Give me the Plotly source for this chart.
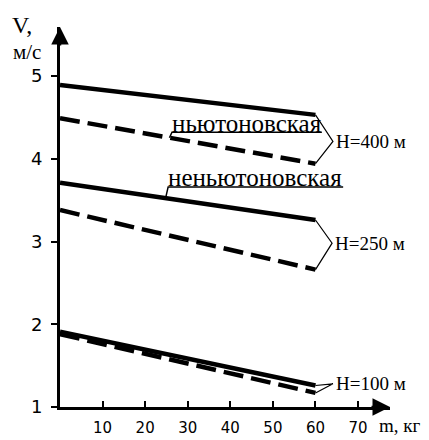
import plotly.graph_objects as go
import numpy as np

# ---- data ----
m = [0, 60]
solid_400 = [4.89, 4.53]
dashed_400 = [4.49, 3.94]
solid_250 = [3.71, 3.26]
dashed_250 = [3.38, 2.66]
solid_100 = [1.91, 1.26]
dashed_100 = [1.88, 1.17]

x_ticks = [10, 20, 30, 40, 50, 60, 70]
y_ticks = [1, 2, 3, 4, 5]
h_labels = ["Н=400 м", "Н=250 м", "Н=100 м"]
label_newton = "ньютоновская"
label_nonnewton = "неньютоновская"

SERIF = "Liberation Serif"
SANS = "DejaVu Sans"

fig = go.Figure()

dash = "20px,8px"
for s, d in [(solid_400, dashed_400), (solid_250, dashed_250), (solid_100, dashed_100)]:
    fig.add_trace(go.Scatter(x=m, y=s, mode="lines", line=dict(color="black", width=4.5),
                             showlegend=False, hoverinfo="skip"))
    fig.add_trace(go.Scatter(x=m, y=d, mode="lines", line=dict(color="black", width=4.5, dash=dash),
                             showlegend=False, hoverinfo="skip"))

def at(series, x):
    return float(np.interp(x, m, series))

# braces to H labels
apex = [(64.1, 4.21), (63.9, 2.98), (64.1, 1.28)]
pairs = [(solid_400, dashed_400), (solid_250, dashed_250), (solid_100, dashed_100)]
for (ax_, ay_), (s, d), lab in zip(apex, pairs, h_labels):
    fig.add_trace(go.Scatter(x=[m[-1], ax_, m[-1]], y=[s[-1], ay_, d[-1]], mode="lines",
                             line=dict(color="black", width=1.2), showlegend=False, hoverinfo="skip"))
    fig.add_annotation(x=ax_, y=ay_, text=lab, showarrow=False, xanchor="left", yanchor="middle",
                       xshift=1, font=dict(family=SERIF, size=19, color="black"))

# curve labels with underline + leader
for text, cx, cy, ul_y, x0, x1, series in [
    (label_newton, 43.9, 4.43, 4.32, 26.3, 61.5, dashed_400),
    (label_nonnewton, 45.8, 3.77, 3.66, 25.4, 66.5, solid_250),
]:
    fig.add_annotation(x=cx, y=cy, text=text, showarrow=False, xanchor="center", yanchor="middle",
                       font=dict(family=SERIF, size=25, color="black"))
    lx = x0 - 0.6
    fig.add_trace(go.Scatter(x=[x1, x0, lx], y=[ul_y, ul_y, at(series, lx)], mode="lines",
                             line=dict(color="black", width=1.5), showlegend=False, hoverinfo="skip"))

# axis arrows
fig.add_annotation(xref="paper", yref="paper", x=0, y=1, ax=0, ay=20,
                   showarrow=True, arrowhead=2, arrowwidth=2.5, arrowsize=1.4, arrowcolor="black", text="")
fig.add_annotation(xref="paper", yref="paper", x=1, y=0, ax=-20, ay=0,
                   showarrow=True, arrowhead=2, arrowwidth=2.5, arrowsize=1.4, arrowcolor="black", text="")

# axis titles
fig.add_annotation(xref="paper", yref="paper", x=0, y=1, xanchor="center", yanchor="middle",
                   xshift=-38, yshift=2, text="V,",
                   showarrow=False, font=dict(family=SERIF, size=24, color="black"))
fig.add_annotation(xref="paper", yref="paper", x=0, y=1, xanchor="center", yanchor="middle",
                   xshift=-33, yshift=-25, text="м/с",
                   showarrow=False, font=dict(family=SERIF, size=21, color="black"))
fig.add_annotation(xref="paper", yref="paper", x=1, y=0, xanchor="center", yanchor="middle",
                   xshift=10, yshift=-18, text="m, кг",
                   showarrow=False, font=dict(family=SERIF, size=19, color="black"))

fig.update_xaxes(range=[0, 77.5], showgrid=False, zeroline=False, showline=True, linecolor="black",
                 linewidth=3, tickvals=x_ticks, ticks="inside", ticklen=6, tickwidth=2,
                 tickcolor="black", ticklabelstandoff=5, automargin=False,
                 tickfont=dict(family=SANS, size=15, color="black"))
fig.update_yaxes(range=[1, 1 + 380 / 82.75], showgrid=False, zeroline=False, showline=True,
                 linecolor="black", linewidth=3, tickvals=y_ticks, ticks="outside", ticklen=6,
                 tickwidth=2, tickcolor="black", ticklabelstandoff=5, automargin=False,
                 tickfont=dict(family=SANS, size=18, color="black"))

fig.update_layout(width=429, height=440, margin=dict(l=60, r=39, t=27, b=33, autoexpand=False),
                  plot_bgcolor="white", paper_bgcolor="white", showlegend=False)

fig.write_html("out.html")
